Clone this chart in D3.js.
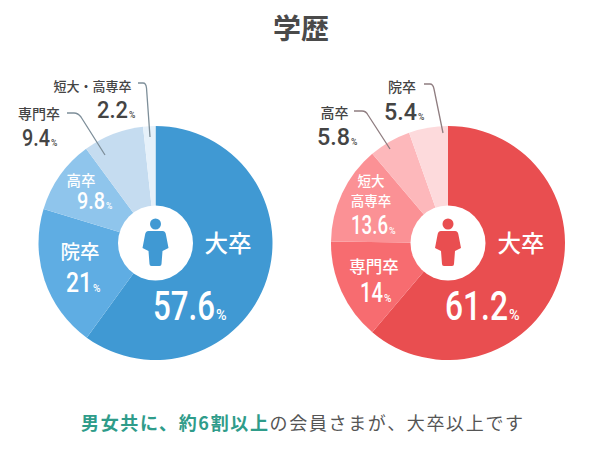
<!DOCTYPE html>
<html>
<head>
<meta charset="utf-8">
<script src="https://cdn.jsdelivr.net/npm/d3@7"></script>
<style>
	html, body { margin: 0; padding: 0; background: #fff; }
	text { font-family: "Noto Sans CJK JP", sans-serif; }
	.num { font-family: Roboto, sans-serif; font-weight: 500; }
</style>
</head>
<body>
<div id="chart"></div>
<script>
const maleLabels = ["大卒", "院卒", "高卒", "専門卒", "短大・高専卒"];
const maleValues = [57.6, 21, 9.8, 9.4, 2.2];
// the left pie in the picture is not cut to its printed numbers, these are the shares as drawn
const maleDrawn = [60, 19.7, 10.2, 8.4, 1.7];
const femaleLabels = ["大卒", "専門卒", "短大\n高専卒", "高卒", "院卒"];
const femaleValues = [61.2, 14, 13.6, 5.8, 5.4];

const maleColors = ["#4099d3", "#5fade3", "#8fc5ec", "#c5dcf0", "#e6f1fa"];
const femaleColors = ["#e94e50", "#f76c70", "#fb9195", "#fdb8bb", "#fddadc"];

// label layout: x, y, s = name centre, baseline, size; nx, ny, nw, n = number left, baseline, width, size
const maleText = [
	{ x: 228, y: 252, s: 23.5, nx: 153, ny: 320, nw: 62, n: 40, c: "#fff" },
	{ x: 80, y: 259, s: 19.5, nx: 66, ny: 292, nw: 26, n: 28, c: "#fff" },
	{ x: 81, y: 186, s: 14.5, nx: 77, ny: 209, nw: 28, n: 24, c: "#fff" },
	{ x: 39, y: 119, s: 14, nx: 22, ny: 146, nw: 28, n: 24, c: "#444" },
	{ x: 92.5, y: 91, s: 13, nx: 97, ny: 118, nw: 31, n: 24, c: "#444" },
];
const femaleText = [
	{ x: 521, y: 252, s: 23.5, nx: 445, ny: 320, nw: 63, n: 40, c: "#fff" },
	{ x: 374, y: 273, s: 16.5, nx: 360, ny: 302, nw: 23, n: 28, c: "#fff" },
	{ x: 371, y: 185.5, s: 13.5, nx: 351, ny: 234, nw: 37, n: 25, c: "#fff" },
	{ x: 334.5, y: 118, s: 14, nx: 317, ny: 145, nw: 33, n: 24, c: "#444" },
	{ x: 402, y: 92, s: 14, nx: 384, ny: 120, nw: 33, n: 24, c: "#444" },
];
const maleLeaders = ["M138,83 H143 Q146,83 146.5,88 L150,137", "M67,113 H74 Q78,113 81,117 L105,155"];
const femaleLeaders = ["M424,84 H430 Q433,84 434,89 L443,133", "M354,111 H362 Q366,111 368,115 L390,149"];

const svg = d3.select("#chart")
	.append("svg")
	.attr("width", 610)
	.attr("height", 454);

svg.append("text")
	.attr("x", 301)
	.attr("y", 39)
	.attr("text-anchor", "middle")
	.attr("font-size", 28)
	.attr("font-weight", 700)
	.attr("fill", "#4a4a4a")
	.text("学歴");

const pie = d3.pie().sort(null).value(d => d);
const arc = d3.arc().innerRadius(0).outerRadius(117);

function drawPie(cx, cy, labels, values, drawn, colors, textPos, leaders, iconColor, leaderColor) {
	const g = svg.append("g").attr("transform", `translate(${cx},${cy})`);

	g.selectAll("path.slice")
		.data(pie(drawn))
		.join("path")
		.attr("class", "slice")
		.attr("d", arc)
		.attr("fill", (d, i) => colors[i]);

	g.append("circle").attr("r", 37.5).attr("fill", "#fff");

	// person icon
	g.append("circle").attr("cy", -19).attr("r", 5.5).attr("fill", iconColor);
	g.append("path")
		.attr("d", "M-7,-12 H7 Q10,-12 10.5,-8 L13,5 L7,8 L6,21 Q6,23 4,23 H-4 Q-6,23 -6,21 L-7,8 L-13,5 L-10.5,-8 Q-10,-12 -7,-12 Z")
		.attr("fill", iconColor);

	svg.append("g").selectAll("path")
		.data(leaders)
		.join("path")
		.attr("d", d => d)
		.attr("fill", "none")
		.attr("stroke", leaderColor)
		.attr("stroke-width", 1.3);

	labels.forEach((label, i) => {
		const p = textPos[i];
		label.split("\n").forEach((line, j) => {
			svg.append("text")
				.attr("x", p.x)
				.attr("y", p.y + j * 20.5)
				.attr("text-anchor", "middle")
				.attr("font-size", p.s)
				.attr("font-weight", 500)
				.attr("fill", p.c)
				.text(line);
		});
		// the numbers are narrower than Roboto, so squeeze them to the measured width
		const num = svg.append("text")
			.attr("class", "num")
			.attr("font-size", p.n)
			.attr("fill", p.c)
			.text(values[i]);
		const k = p.nw / num.node().getComputedTextLength();
		num.attr("transform", `translate(${p.nx},${p.ny}) scale(${k},1)`);
		svg.append("text")
			.attr("class", "num")
			.attr("x", p.nx + p.nw + 1)
			.attr("y", p.ny)
			.attr("font-size", p.n * 0.36)
			.attr("fill", p.c)
			.text("%");
	});
}

drawPie(155.5, 243, maleLabels, maleValues, maleDrawn, maleColors, maleText, maleLeaders, "#4099d3", "#7d8e99");
drawPie(448, 243, femaleLabels, femaleValues, femaleValues, femaleColors, femaleText, femaleLeaders, "#e94e50", "#8f7d80");

const foot = svg.append("text")
	.attr("x", 81)
	.attr("y", 430)
	.attr("font-size", 18)
	.attr("letter-spacing", 1.65)
	.attr("fill", "#555");
foot.append("tspan").attr("fill", "#2f9c8a").attr("font-weight", 700).text("男女共に、約6割以上");
foot.append("tspan").text("の会員さまが、大卒以上です");
</script>
</body>
</html>
